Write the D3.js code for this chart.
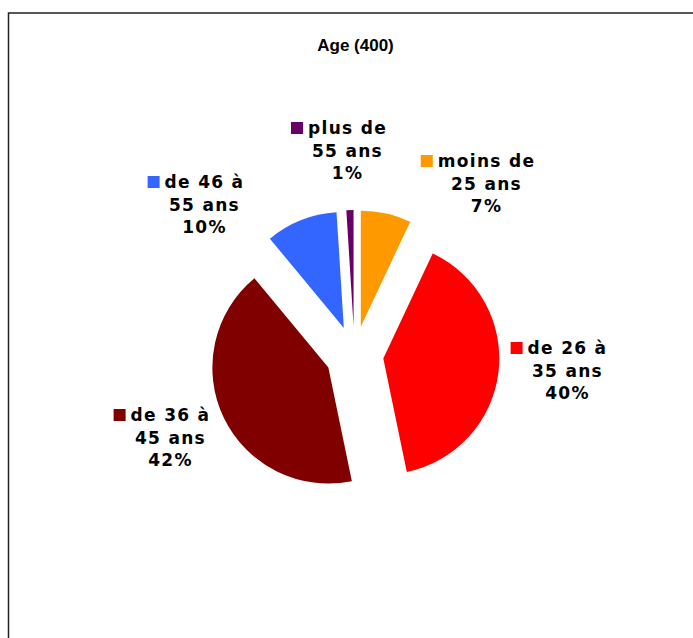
<!DOCTYPE html>
<html>
<head>
<meta charset="utf-8">
<script src="https://cdn.jsdelivr.net/npm/d3@7"></script>
<style>
  body { margin: 0; background: #fff; }
</style>
</head>
<body>
<div id="canvas"></div>
<script>
"use strict"

/* data: 400 answers */
let categories = ["moins de 25 ans", "de 26 à 35 ans", "de 36 à 45 ans", "de 46 à 55 ans", "plus de 55 ans"];
let counts = [28, 159, 169, 40, 4];
let percentLabels = ["7%", "40%", "42%", "10%", "1%"];
let colors = ["#FF9900", "#FF0000", "#800000", "#3366FF", "#660066"];

/* how each label is broken on lines (as in the picture) */
let labelLines = [
    ["moins de", "25 ans"],
    ["de 26 à", "35 ans"],
    ["de 36 à", "45 ans"],
    ["de 46 à", "55 ans"],
    ["plus de", "55 ans"]
];
/* label block centers, relative to pie center (layout only) */
let labelOffsets = [[132, -188], [213, -1], [-184, 66], [-150, -167], [-7, -221]];

let width = 693, height = 638;
let cx = 354.5, cy = 355, radius = 116, explode = 29;

let drawing = d3.select("#canvas")
    .append("svg")
    .attr("width", width)
    .attr("height", height);

/* chart border (only top and left show in the window) */
drawing.append("rect")
    .attr("x", 8.5)
    .attr("y", 13)
    .attr("width", 800)
    .attr("height", 800)
    .attr("fill", "none")
    .attr("stroke", "#222")
    .attr("stroke-width", 1.5);

/* title */
drawing.append("text")
    .attr("x", cx + 1)
    .attr("y", 51)
    .attr("text-anchor", "middle")
    .attr("font-family", "Liberation Sans, Arial, sans-serif")
    .attr("font-weight", "bold")
    .attr("font-size", 17)
    .text("Age (400)");

/* pie */
let pie = d3.pie().sort(null).value(d => d);
let arcs = pie(counts);
let arc = d3.arc().innerRadius(0).outerRadius(radius);

let pieGroup = drawing.append("g")
    .attr("transform", "translate(" + cx + "," + cy + ")");

pieGroup.selectAll("path")
    .data(arcs)
    .join("path")
    .attr("d", arc)
    .attr("fill", (d, i) => colors[i])
    .attr("transform", d => {
        let mid = (d.startAngle + d.endAngle) / 2;
        return "translate(" + (Math.sin(mid) * explode) + "," + (-Math.cos(mid) * explode) + ")";
    });

/* labels with the little colour key */
let lineGap = 22.5;
arcs.forEach((d, i) => {
    let lines = labelLines[i].concat([percentLabels[i]]);
    let bx = cx + labelOffsets[i][0];
    let by = cy + labelOffsets[i][1];
    let first = null;
    lines.forEach((t, k) => {
        let txt = drawing.append("text")
            .attr("x", bx)
            .attr("y", by + k * lineGap)
            .attr("text-anchor", "middle")
            .attr("font-family", "DejaVu Sans, Verdana, sans-serif")
            .attr("font-weight", "bold")
            .attr("font-size", 17)
            .attr("letter-spacing", 1.3)
            .attr("fill", "#000")
            .text(t);
        if (k === 0) first = txt;
    });
    let len = first.node().getComputedTextLength();
    drawing.append("rect")
        .attr("x", bx - len / 2 - 17)
        .attr("y", by - 12)
        .attr("width", 12)
        .attr("height", 12)
        .attr("fill", colors[i]);
});
</script>
</body>
</html>
